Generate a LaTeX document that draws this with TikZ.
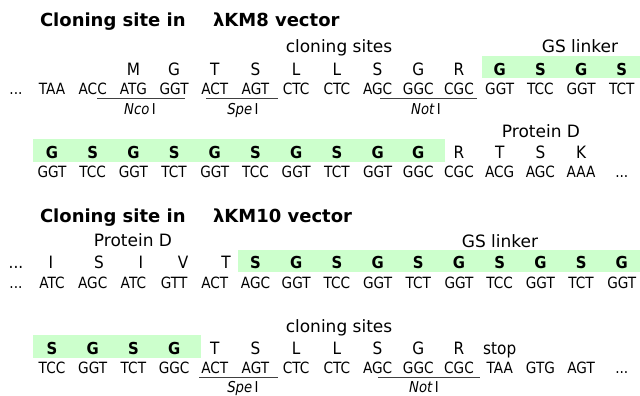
\documentclass[tikz,border=0pt]{standalone}
\usepackage{fontspec}
\setmainfont{DejaVu Sans}
\newfontfamily\condfont[FakeStretch=0.88]{DejaVu Sans}
\newfontfamily\condaa[FakeStretch=0.9]{DejaVu Sans}
\definecolor{gsgreen}{RGB}{204,255,204}
\begin{document}
\begin{tikzpicture}[x=1pt,y=-1pt,
  every node/.style={inner sep=0pt, outer sep=0pt, anchor=base},
  ttl/.style={font=\fontsize{18}{20}\selectfont\bfseries, anchor=base west},
  lbl/.style={font=\fontsize{17}{19}\selectfont},
  aa/.style={font=\condaa\fontsize{17}{19}\selectfont},
  aab/.style={font=\condaa\fontsize{16.5}{18}\selectfont\bfseries},
  cod/.style={font=\condfont\fontsize{15.5}{17}\selectfont},
  enz/.style={font=\condfont\fontsize{15}{17}\selectfont},
  band/.style={fill=gsgreen, draw=none},
  uline/.style={draw=black!75, line width=0.9pt}]
\useasboundingbox[fill=white] (0,0) rectangle (640,396);

% ---------- green bands ----------
\fill[band] (482,56) rectangle (640,78.5);
\fill[band] (33,139) rectangle (445,161.5);
\fill[band] (238,249.5) rectangle (640,272);
\fill[band] (33,335) rectangle (201,357.5);

% ---------- section 1 ----------
\node[ttl] (t1a) at (40,27) {Cloning site in};
\node[ttl] (t1b) at (213,27) {λKM8 vector};
\node[lbl] (l1a) at (339,53) {cloning sites};
\node[lbl] (l1b) at (580,53) {GS linker};

\node[cod] (d1) at (16,94.5) {...};
\foreach \w [count=\i from 0] in {TAA,ACC,ATG,GGT,ACT,AGT,CTC,CTC,AGC,GGC,CGC,GGT,TCC,GGT,TCT}
  \node[cod] (ra\i) at ({52+40.7*\i},94.5) {\w};
\foreach \w [count=\i from 2] in {M,G,T,S,L,L,S,G,R}
  \node[aa] (pa\i) at ({52+40.7*\i},75.5) {\w};
\foreach \w [count=\i from 11] in {G,S,G,S}
  \node[aab] (pa\i) at ({52+40.7*\i},75.5) {\w};

\coordinate (u1a) at (97,98.5);  \coordinate (u1b) at (185,98.5);
\coordinate (u2a) at (206,98.5); \coordinate (u2b) at (278,98.5);
\coordinate (u3a) at (380,98.5); \coordinate (u3b) at (477,98.5);
\draw[uline] (u1a) -- (u1b);
\draw[uline] (u2a) -- (u2b);
\draw[uline] (u3a) -- (u3b);
\node[enz] (e1) at (140,114) {\itshape Nco\upshape\,I};
\node[enz] (e2) at (243,114) {\itshape Spe\upshape\,I};
\node[enz] (e3) at (426,114) {\itshape Not\upshape\,I};

% ---------- section 1, second line ----------
\node[lbl] (l2a) at (541,137) {Protein D};
\foreach \w [count=\i from 0] in {GGT,TCC,GGT,TCT,GGT,TCC,GGT,TCT,GGT,GGC,CGC,ACG,AGC,AAA}
  \node[cod] (rb\i) at ({52+40.7*\i},177.5) {\w};
\node[cod] (d2) at ({52+40.7*14},177.5) {...};
\foreach \w [count=\i from 0] in {G,S,G,S,G,S,G,S,G,G}
  \node[aab] (pb\i) at ({52+40.7*\i},158) {\w};
\foreach \w [count=\i from 10] in {R,T,S,K}
  \node[aa] (pb\i) at ({52+40.7*\i},158) {\w};

% ---------- section 2 ----------
\node[ttl] (t2a) at (40,222.5) {Cloning site in};
\node[ttl] (t2b) at (213,222.5) {λKM10 vector};
\node[lbl] (l3a) at (133,246.5) {Protein D};
\node[lbl] (l3b) at (500,247) {GS linker};

\node[aa] (d3a) at (16,268.5) {...};
\node[cod] (d3b) at (16,288) {...};
\foreach \w [count=\i from 0] in {ATC,AGC,ATC,GTT,ACT,AGC,GGT,TCC,GGT,TCT,GGT,TCC,GGT,TCT,GGT}
  \node[cod] (rc\i) at ({52+40.7*\i},288) {\w};
\foreach \w/\x [count=\i from 0] in {I/51,S/99,I/141,V/183,T/226}
  \node[aa] (pc\i) at (\x,268.5) {\w};
\foreach \w [count=\i from 5] in {S,G,S,G,S,G,S,G,S,G}
  \node[aab] (pc\i) at ({52+40.7*\i},268.5) {\w};

% ---------- section 2, second line ----------
\node[lbl] (l4a) at (339,332.5) {cloning sites};
\foreach \w [count=\i from 0] in {TCC,GGT,TCT,GGC,ACT,AGT,CTC,CTC,AGC,GGC,CGC,TAA,GTG,AGT}
  \node[cod] (rd\i) at ({52+40.7*\i},373.5) {\w};
\node[cod] (d4) at ({52+40.7*14},373.5) {...};
\foreach \w [count=\i from 0] in {S,G,S,G}
  \node[aab] (pd\i) at ({52+40.7*\i},354) {\w};
\foreach \w [count=\i from 4] in {T,S,L,L,S,G,R}
  \node[aa] (pd\i) at ({52+40.7*\i},354) {\w};
\node[aa] (pstop) at ({52+40.7*11},354) {stop};

\coordinate (u4a) at (199,377.5); \coordinate (u4b) at (278,377.5);
\coordinate (u5a) at (378,377.5); \coordinate (u5b) at (480,377.5);
\draw[uline] (u4a) -- (u4b);
\draw[uline] (u5a) -- (u5b);
\node[enz] (e4) at (243,392.5) {\itshape Spe\upshape\,I};
\node[enz] (e5) at (424,392.5) {\itshape Not\upshape\,I};
\end{tikzpicture}
\end{document}
